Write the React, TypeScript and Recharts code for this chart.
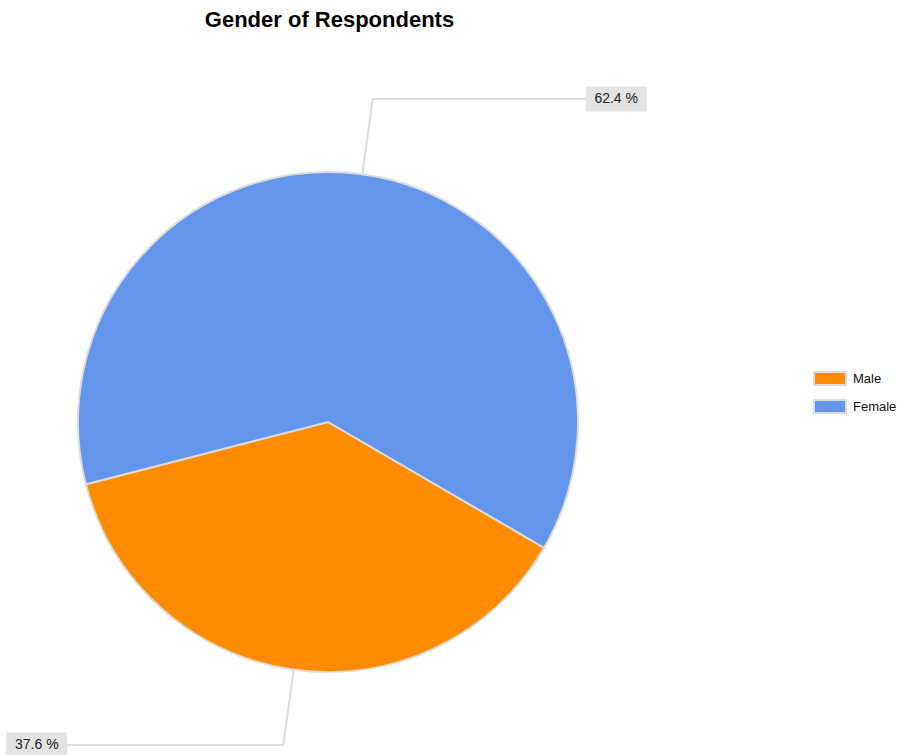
import { PieChart, Pie, Cell, Legend } from 'recharts'

const genders = ['Male', 'Female']
const shares = [37.6, 62.4]
const sliceColors = ['#FF8C00', '#6495ED']

const data = genders.map((name, i) => ({ name, value: shares[i] }))

const RADIAN = Math.PI / 180

// leader line goes out along the slice middle, then bends horizontally to a grey box
const renderLabel = (props: any) => {
  const { cx, cy, midAngle, outerRadius, percent } = props
  const cos = Math.cos(-midAngle * RADIAN)
  const sin = Math.sin(-midAngle * RADIAN)
  const sx = cx + (outerRadius - 1) * cos
  const sy = cy + (outerRadius - 1) * sin
  const ex = cx + (outerRadius + 76) * cos
  const ey = cy + (outerRadius + 76) * sin
  const right = cos >= 0
  const lx = ex + (right ? 213 : -216)
  const boxW = 61
  const boxH = 25
  const bx = right ? lx : lx - boxW
  const text = `${(percent * 100).toFixed(1)} %`
  return (
    <g>
      <polyline
        points={`${sx},${sy} ${ex},${ey} ${lx},${ey}`}
        fill="none"
        stroke="#dcdcdc"
        strokeWidth={2}
      />
      <rect x={bx} y={ey - boxH / 2} width={boxW} height={boxH} fill="#e3e3e3" />
      <text
        x={bx + boxW / 2}
        y={ey}
        textAnchor="middle"
        dominantBaseline="middle"
        fontFamily="Liberation Sans, Arial, sans-serif"
        fontSize={14}
        fill="#222"
      >
        {text}
      </text>
    </g>
  )
}

const renderLegend = (props: any) => {
  const payload = [...props.payload].sort(
    (a: any, b: any) => genders.indexOf(a.value) - genders.indexOf(b.value)
  )
  return (
    <div style={{ fontFamily: 'Liberation Sans, Arial, sans-serif', fontSize: 13, color: '#111' }}>
      {payload.map((entry: any) => (
        <div key={entry.value} style={{ display: 'flex', alignItems: 'center', height: 28 }}>
          <span
            style={{
              display: 'inline-block',
              width: 30,
              height: 11,
              background: entry.color,
              border: '2px solid #dcdcdc',
              marginRight: 6,
            }}
          />
          <span>{entry.value}</span>
        </div>
      ))}
    </div>
  )
}

export default function App() {
  return (
    <div style={{ position: 'absolute', left: 0, top: 0, width: 907, height: 755, background: '#fff', overflow: 'hidden' }}>
      <div
        style={{
          position: 'absolute',
          left: 0,
          width: 659,
          top: 7,
          textAlign: 'center',
          fontFamily: 'Liberation Sans, Arial, sans-serif',
          fontWeight: 'bold',
          fontSize: 22,
          color: '#000',
        }}
      >
        Gender of Respondents
      </div>
      <PieChart width={907} height={755} margin={{ top: 0, right: 0, bottom: 0, left: 0 }}>
        <Pie
          data={data}
          dataKey="value"
          nameKey="name"
          cx={328}
          cy={422}
          outerRadius={250}
          startAngle={-30.2}
          endAngle={-390.2}
          stroke="#dcdcdc"
          strokeWidth={2}
          label={renderLabel}
          labelLine={false}
          isAnimationActive={false}
        >
          {data.map((d, i) => (
            <Cell key={d.name} fill={sliceColors[i]} />
          ))}
        </Pie>
        <Legend
          content={renderLegend}
          layout="vertical"
          wrapperStyle={{ position: 'absolute', left: 813, top: 364, width: 94 }}
        />
      </PieChart>
    </div>
  )
}
